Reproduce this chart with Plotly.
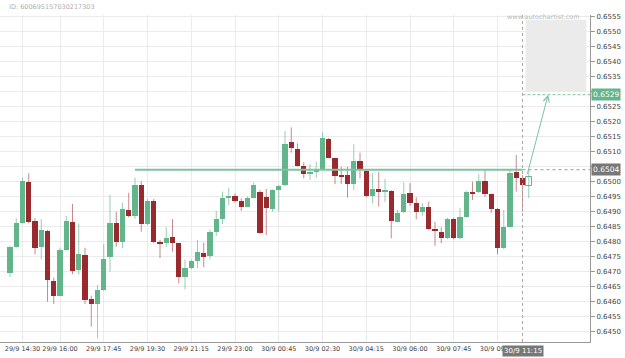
import plotly.graph_objects as go

# ---- data (15-minute candles, index 0 = 29/9 14:00) ----
opens = [0.64695, 0.64783, 0.64863, 0.64998, 0.64869, 0.64783, 0.64837, 0.64670, 0.64620, 0.64772,
         0.64867, 0.64706, 0.64755, 0.64609, 0.64592, 0.64638, 0.64748, 0.64861, 0.64798, 0.64906,
         0.64887, 0.64989, 0.64859, 0.64936, 0.64800, 0.64797, 0.64815, 0.64795, 0.64681, 0.64711,
         0.64736, 0.64763, 0.64752, 0.64833, 0.64875, 0.64947, 0.64952, 0.64937, 0.64917, 0.64947,
         0.64967, 0.64948, 0.64909, 0.64972, 0.64989, 0.65131, 0.65109, 0.65053, 0.65028, 0.65031,
         0.65041, 0.65142, 0.65078, 0.65020, 0.65022, 0.64992, 0.65069, 0.65036, 0.64952, 0.64976,
         0.64967, 0.64969, 0.64867, 0.64898, 0.64963, 0.64928, 0.64898, 0.64917, 0.64841, 0.64831,
         0.64811, 0.64876, 0.64811, 0.64883, 0.64967, 0.64965, 0.65002, 0.64958, 0.64909, 0.64778,
         0.64850, 0.65031, 0.65011]
highs = [0.64786, 0.64878, 0.65013, 0.65028, 0.64878, 0.64875, 0.64840, 0.64680, 0.64781, 0.64886,
         0.64926, 0.64861, 0.64780, 0.64620, 0.64656, 0.64792, 0.64956, 0.64900, 0.64930, 0.64963,
         0.65013, 0.65002, 0.64942, 0.64942, 0.64806, 0.64848, 0.64875, 0.64796, 0.64741, 0.64740,
         0.64806, 0.64797, 0.64840, 0.64903, 0.64967, 0.64980, 0.64961, 0.64945, 0.64950, 0.64998,
         0.64972, 0.64976, 0.64975, 0.64990, 0.65169, 0.65181, 0.65128, 0.65065, 0.65059, 0.65067,
         0.65165, 0.65146, 0.65080, 0.65050, 0.65050, 0.65125, 0.65097, 0.65040, 0.65028, 0.65033,
         0.65009, 0.64972, 0.64906, 0.64998, 0.64995, 0.64948, 0.64928, 0.64933, 0.64867, 0.64848,
         0.64880, 0.64880, 0.64913, 0.64970, 0.65000, 0.65025, 0.65039, 0.64960, 0.64912, 0.64906,
         0.65039, 0.65089, 0.65022]
lows = [0.64683, 0.64780, 0.64860, 0.64861, 0.64758, 0.64741, 0.64600, 0.64592, 0.64618, 0.64770,
        0.64692, 0.64691, 0.64592, 0.64517, 0.64478, 0.64636, 0.64700, 0.64783, 0.64778, 0.64881,
        0.64876, 0.64833, 0.64855, 0.64795, 0.64745, 0.64783, 0.64767, 0.64661, 0.64641, 0.64708,
        0.64711, 0.64715, 0.64741, 0.64819, 0.64859, 0.64922, 0.64930, 0.64903, 0.64915, 0.64945,
        0.64826, 0.64822, 0.64900, 0.64900, 0.64985, 0.65097, 0.65050, 0.65011, 0.65006, 0.65013,
        0.65038, 0.65078, 0.64992, 0.64992, 0.64947, 0.64972, 0.65011, 0.64948, 0.64928, 0.64917,
        0.64933, 0.64811, 0.64865, 0.64895, 0.64919, 0.64875, 0.64888, 0.64838, 0.64786, 0.64795,
        0.64808, 0.64808, 0.64808, 0.64880, 0.64939, 0.64962, 0.64950, 0.64896, 0.64758, 0.64775,
        0.64847, 0.64967, 0.64900]
closes = [0.64783, 0.64861, 0.65002, 0.64867, 0.64778, 0.64839, 0.64672, 0.64620, 0.64772, 0.64869,
          0.64702, 0.64758, 0.64607, 0.64592, 0.64638, 0.64742, 0.64861, 0.64798, 0.64908, 0.64887,
          0.64989, 0.64859, 0.64937, 0.64800, 0.64795, 0.64813, 0.64797, 0.64681, 0.64713, 0.64736,
          0.64767, 0.64748, 0.64831, 0.64875, 0.64945, 0.64952, 0.64937, 0.64915, 0.64947, 0.64989,
          0.64830, 0.64911, 0.64972, 0.64987, 0.65126, 0.65113, 0.65053, 0.65025, 0.65031, 0.65041,
          0.65147, 0.65080, 0.65019, 0.65017, 0.64991, 0.65069, 0.65041, 0.64952, 0.64975, 0.64965,
          0.64970, 0.64870, 0.64897, 0.64959, 0.64928, 0.64898, 0.64917, 0.64841, 0.64836, 0.64811,
          0.64876, 0.64811, 0.64883, 0.64967, 0.64961, 0.65002, 0.64958, 0.64908, 0.64780, 0.64850,
          0.65030, 0.65011, 0.64988]

# forming candle (drawn hollow)
live_candle = {"open": 0.64986, "high": 0.65039, "low": 0.64945, "close": 0.65017}

tick_index = [2, 8, 15, 22, 29, 36, 43, 50, 57, 64, 71, 78]
tick_labels = ["29/9 14:30", "29/9 16:00", "29/9 17:45", "29/9 19:30", "29/9 21:15", "29/9 23:00",
               "30/9 00:45", "30/9 02:30", "30/9 04:15", "30/9 06:00", "30/9 07:45", "30/9 09:30"]
current_label = "30/9 11:15"

price_ticks = [0.6450, 0.6455, 0.6460, 0.6465, 0.6470, 0.6475, 0.6480, 0.6485, 0.6490, 0.6495,
               0.6500, 0.6505, 0.6510, 0.6515, 0.6520, 0.6525, 0.6530, 0.6535, 0.6540, 0.6545,
               0.6550, 0.6555]

level_price = 0.6504
level_start = 20
target_price = 0.6529
target_zone = [0.6530, 0.6554]
now_index = 82
arrow_from = (82.7, 0.6502)
arrow_to = (86.1, 0.6529)

GREEN = "#63b58c"
RED = "#9a2a2e"
GREEN_W = "rgba(99,181,140,0.65)"
RED_W = "rgba(154,42,46,0.55)"

n = len(opens)
xs = list(range(n))
fig = go.Figure()

# wicks
for up, col in ((True, GREEN_W), (False, RED_W)):
    wx, wy = [], []
    for i in xs:
        if (closes[i] >= opens[i]) == up:
            wx += [i, i, None]
            wy += [lows[i], highs[i], None]
    fig.add_trace(go.Scatter(x=wx, y=wy, mode="lines", line=dict(color=col, width=1),
                             hoverinfo="skip", showlegend=False))

# bodies
MINH = 0.00003
for up, col in ((True, GREEN), (False, RED)):
    bx, base, hgt = [], [], []
    for i in xs:
        if (closes[i] >= opens[i]) == up:
            bx.append(i)
            lo = min(opens[i], closes[i])
            base.append(lo)
            hgt.append(max(abs(closes[i] - opens[i]), MINH))
    fig.add_trace(go.Bar(x=bx, y=hgt, base=base, width=0.84, marker=dict(color=col, line=dict(width=0)),
                         hoverinfo="skip", showlegend=False))

# live hollow candle
li = n
fig.add_trace(go.Scatter(x=[li, li], y=[live_candle["low"], live_candle["high"]], mode="lines",
                         line=dict(color=GREEN_W, width=1), showlegend=False, hoverinfo="skip"))
fig.add_trace(go.Bar(x=[li], y=[live_candle["close"] - live_candle["open"]], base=[live_candle["open"]],
                     width=0.9, marker=dict(color="white", line=dict(color=GREEN, width=1)),
                     showlegend=False, hoverinfo="skip"))

XMIN, XMAX = -1.6, 92.8
YMIN, YMAX = 0.644657, 0.655557

# y labels hidden where the level boxes sit on the axis
covered = [target_price + 0.0001, level_price + 0.0001]
price_text = ["" if any(abs(p - c) < 1e-7 for c in covered) else f"{p:.4f}" for p in price_ticks]

shapes = []
# target zone
shapes.append(dict(type="rect", xref="x", yref="y", x0=82.5, x1=92.2, y0=target_zone[0], y1=target_zone[1],
                   fillcolor="#ebebeb", line=dict(width=0), layer="below"))
# level line
shapes.append(dict(type="line", xref="x", yref="y", x0=level_start, x1=now_index, y0=level_price, y1=level_price,
                   line=dict(color="#7cc4a0", width=2)))
shapes.append(dict(type="line", xref="x", yref="y", x0=now_index, x1=XMAX, y0=level_price, y1=level_price,
                   line=dict(color="#999999", width=1, dash="dot")))
# target line
shapes.append(dict(type="line", xref="x", yref="y", x0=now_index, x1=XMAX, y0=target_price, y1=target_price,
                   line=dict(color="#7cc4a0", width=1, dash="3px,2px")))
# now vertical line
shapes.append(dict(type="line", xref="x", yref="paper", x0=now_index, x1=now_index, y0=0, y1=1,
                   line=dict(color="#aaaaaa", width=1, dash="dot")))

annotations = [
    dict(x=arrow_to[0], y=arrow_to[1], ax=arrow_from[0], ay=arrow_from[1], xref="x", yref="y",
         axref="x", ayref="y", showarrow=True, arrowhead=5, arrowsize=1.2, arrowwidth=1,
         arrowcolor="#7cc4a0", text=""),
    dict(x=1, xref="paper", xanchor="left", y=level_price, yref="y", text="0.6504", showarrow=False,
         bgcolor="#777777", font=dict(color="white", size=7.5, family="DejaVu Sans"), borderpad=1, xshift=1),
    dict(x=1, xref="paper", xanchor="left", y=target_price, yref="y", text="0.6529", showarrow=False,
         bgcolor="#63b58c", font=dict(color="white", size=7.5, family="DejaVu Sans"), borderpad=1, xshift=1),
    dict(x=now_index, xref="x", y=0, yref="paper", yanchor="top", yshift=-3, text=current_label,
         showarrow=False, bgcolor="#777777", font=dict(color="white", size=7, family="DejaVu Sans"), borderpad=1),
    dict(x=0.012, xref="paper", xanchor="left", y=1, yref="paper", yanchor="bottom", yshift=2,
         text="ID: 600695157030217303", showarrow=False, font=dict(color="#b0b0b0", size=6.5, family="DejaVu Sans")),
    dict(x=0.987, xref="paper", xanchor="right", y=1, yref="paper", yanchor="top", yshift=4,
         text="www.autochartist.com", showarrow=False, font=dict(color="#bbbbbb", size=6.5, family="DejaVu Sans")),
]

fig.update_layout(
    width=625, height=358,
    margin=dict(l=0, r=35, t=15, b=16),
    paper_bgcolor="white", plot_bgcolor="white",
    barmode="overlay", bargap=0,
    shapes=shapes, annotations=annotations,
    font=dict(family="DejaVu Sans", size=7, color="#444444"),
    xaxis=dict(range=[XMIN, XMAX], tickmode="array", tickvals=tick_index, ticktext=tick_labels,
               showgrid=True, gridcolor="#ebebeb", gridwidth=1, zeroline=False,
               showline=True, linecolor="#999999", linewidth=1, ticks="", ticklen=0,
               tickfont=dict(size=6.5, color="#444444")),
    yaxis=dict(range=[YMIN, YMAX], side="right", tickmode="array", tickvals=price_ticks, ticktext=price_text,
               showgrid=True, gridcolor="#ebebeb", gridwidth=1, zeroline=False,
               showline=True, linecolor="#999999", linewidth=1, ticks="outside", ticklen=4,
               tickcolor="#999999", tickfont=dict(size=7, color="#444444")),
)

fig.write_html("out.html")
